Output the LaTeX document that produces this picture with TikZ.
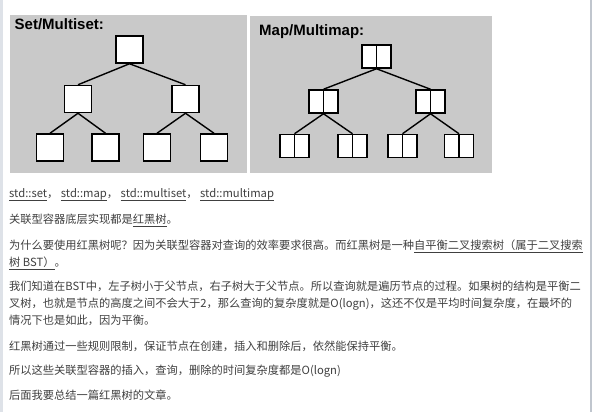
\documentclass[tikz,border=0pt]{standalone}
\usepackage{fontspec}
\setmainfont{Noto Sans CJK SC}
\newfontfamily\arialbf{Liberation Sans}
\definecolor{panel}{RGB}{201,201,201}
\definecolor{txt}{RGB}{64,64,64}
\definecolor{leftbar}{RGB}{222,226,232}
\definecolor{rightbar}{RGB}{192,198,206}
\newcommand\lnk[1]{\underline{\raisebox{0pt}[\height][1.6pt]{#1}}}
\begin{document}
\begin{tikzpicture}[x=1pt,y=-1pt,
  sbox/.style={draw=black,fill=white,line width=1.5pt,minimum width=27pt,minimum height=27pt,inner sep=0pt},
  dbox/.style={draw=black,fill=white,line width=1.5pt,minimum width=29pt,minimum height=23pt,inner sep=0pt,
    path picture={\draw[line width=1.5pt] (path picture bounding box.north) -- (path picture bounding box.south);}},
  edge/.style={line width=1.4pt,black},
  title/.style={anchor=base west,inner sep=0pt,font=\arialbf\bfseries\fontsize{15}{15}\selectfont},
  para/.style={anchor=base west,inner sep=0pt,text=txt,font=\fontsize{11.25}{11.25}\selectfont}]
\useasboundingbox (0,0) rectangle (593,412);
\fill[white] (0,0) rectangle (593,412);
\fill[leftbar] (0,0) rectangle (3,412);
\fill[rightbar] (589.5,0) rectangle (591.5,412);
% panels
\fill[panel] (10,15) rectangle (247,173);
\fill[panel] (250,16) rectangle (492,173);
\node[title] (t1) at (14.5,29.3) {Set/Multiset:};
\node[title] (t2) at (259,36) {Map/Multimap:};
% set tree
\node[sbox] (s0) at (129.5,49.5) {};
\node[sbox] (s1) at (78,99) {};
\node[sbox] (s2) at (185.5,99) {};
\node[sbox] (s3) at (50,147.5) {};
\node[sbox] (s4) at (105.5,147.5) {};
\node[sbox] (s5) at (157,147.5) {};
\node[sbox] (s6) at (214,147.5) {};
\draw[edge] (s0.south) -- (s1.north);
\draw[edge] (s0.south) -- (s2.north);
\draw[edge] (s1.south) -- (s3.north);
\draw[edge] (s1.south) -- (s4.north);
\draw[edge] (s2.south) -- (s5.north);
\draw[edge] (s2.south) -- (s6.north);
% map tree
\node[dbox] (m0) at (376.5,56.5) {};
\node[dbox] (m1) at (323.5,101.5) {};
\node[dbox] (m2) at (430.5,101.5) {};
\node[dbox] (m3) at (294.5,146) {};
\node[dbox] (m4) at (352.5,146) {};
\node[dbox] (m5) at (402.5,146) {};
\node[dbox] (m6) at (459,146) {};
\draw[edge] (m0.south) -- (m1.north);
\draw[edge] (m0.south) -- (m2.north);
\draw[edge] (m1.south) -- (m3.north);
\draw[edge] (m1.south) -- (m4.north);
\draw[edge] (m2.south) -- (m5.north);
\draw[edge] (m2.south) -- (m6.north);
% text
\node[para] (p1) at (9,197.5) {\lnk{std::set}， \lnk{std::map}， \lnk{std::multiset}， \lnk{std::multimap}};
\node[para] (p2) at (9,223.5) {关联型容器底层实现都是\lnk{红黑树}。};
\node[para] (p3) at (9,249) {为什么要使用红黑树呢？因为关联型容器对查询的效率要求很高。而红黑树是一种\lnk{自平衡二叉搜索树（属于二叉搜索}};
\node[para] (p3b) at (9,266) {\lnk{树 BST）}。};
\node[para] (p4) at (9,290) {我们知道在BST中，左子树小于父节点，右子树大于父节点。所以查询就是遍历节点的过程。如果树的结构是平衡二};
\node[para] (p4b) at (9,307) {叉树，也就是节点的高度之间不会大于2，那么查询的复杂度就是O(logn)，这还不仅是平均时间复杂度，在最坏的};
\node[para] (p4c) at (9,324) {情况下也是如此，因为平衡。};
\node[para] (p5) at (9,350.5) {红黑树通过一些规则限制，保证节点在创建，插入和删除后，依然能保持平衡。};
\node[para] (p6) at (9,374.5) {所以这些关联型容器的插入，查询，删除的时间复杂度都是O(logn)};
\node[para] (p7) at (9,399.5) {后面我要总结一篇红黑树的文章。};
\end{tikzpicture}
\end{document}
